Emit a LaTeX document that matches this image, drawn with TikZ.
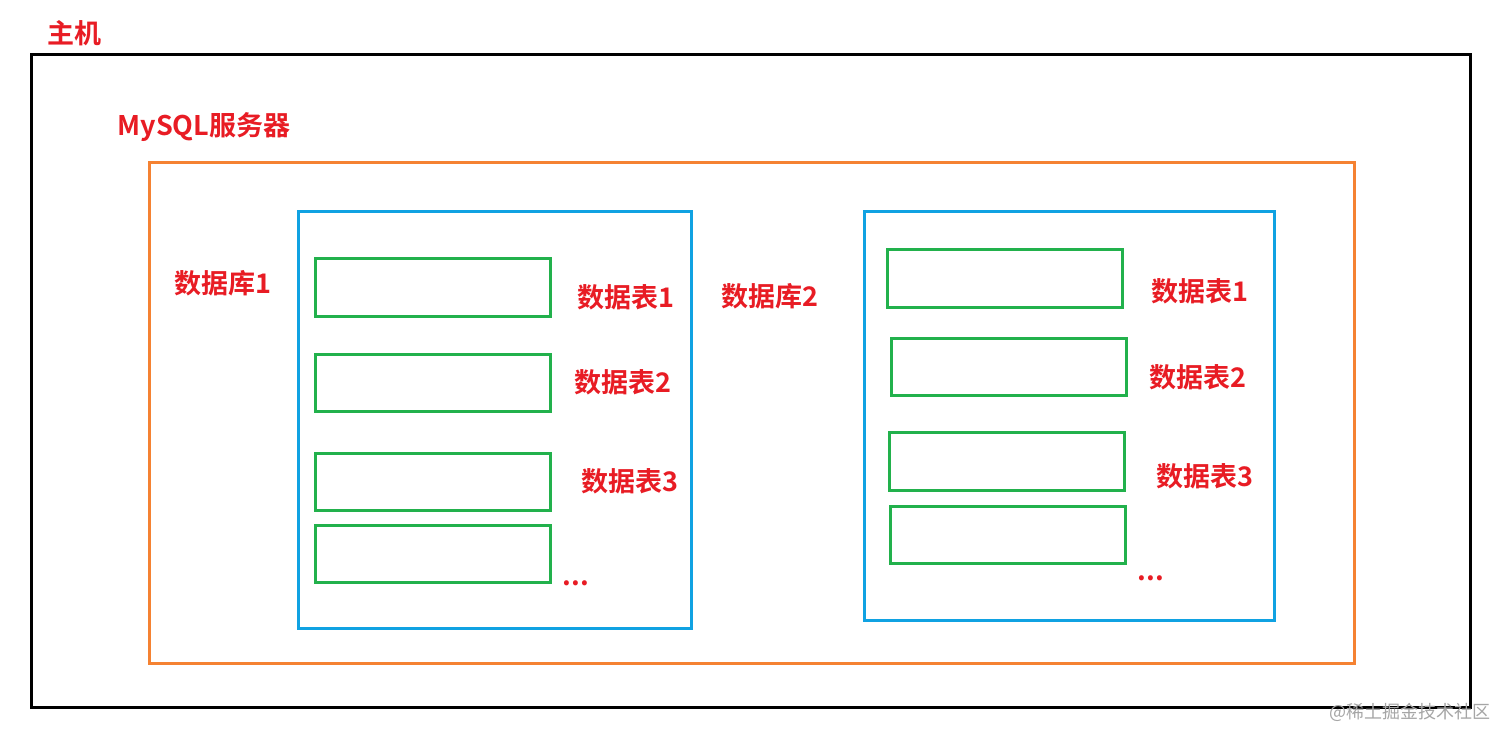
\documentclass[tikz,border=0pt]{standalone}
\usepackage{fontspec}
\newfontfamily\cjk{Noto Sans CJK SC}
\newfontfamily\cjkb{Noto Sans CJK SC Bold}
\definecolor{lred}{RGB}{232,28,36}
\definecolor{lorange}{RGB}{245,130,50}
\definecolor{lblue}{RGB}{16,162,226}
\definecolor{lgreen}{RGB}{34,177,76}
\begin{document}
\begin{tikzpicture}[x=1pt,y=-1pt,
  lbl/.style={text=lred,font=\cjkb\fontsize{27}{27}\selectfont,inner sep=0pt},
  hostbox/.style={draw=black,line width=3pt},
  srvbox/.style={draw=lorange,line width=3pt},
  dbbox/.style={draw=lblue,line width=3pt},
  tblbox/.style={draw=lgreen,line width=3pt}]
\useasboundingbox[fill=white] (0,0) rectangle (1512,743);
\node[lbl] (host) at (74,33) {主机};
\draw[hostbox] (31,55) rectangle (1470,707);
\node[lbl] (srv) at (204,127) {MySQL服务器};
\draw[srvbox] (149,163) rectangle (1354,663);
% database 1
\draw[dbbox] (298,212) rectangle (691,628);
\node[lbl] (db1) at (223,283) {数据库1};
\draw[tblbox] (315,259) rectangle (550,316);
\draw[tblbox] (315,354) rectangle (550,411);
\draw[tblbox] (315,453) rectangle (550,510);
\draw[tblbox] (315,525) rectangle (550,582);
\node[lbl] (t11) at (626,297) {数据表1};
\node[lbl] (t12) at (623,382) {数据表2};
\node[lbl] (t13) at (630,481) {数据表3};
\node[lbl] (d1) at (576,583) {...};
% database 2
\draw[dbbox] (864,212) rectangle (1274,620);
\node[lbl] (db2) at (770,296) {数据库2};
\draw[tblbox] (887,250) rectangle (1122,307);
\draw[tblbox] (891,338) rectangle (1126,395);
\draw[tblbox] (889,432) rectangle (1124,490);
\draw[tblbox] (890,506) rectangle (1125,563);
\node[lbl] (t21) at (1200,291) {数据表1};
\node[lbl] (t22) at (1198,377) {数据表2};
\node[lbl] (t23) at (1205,476) {数据表3};
\node[lbl] (d2) at (1151,578) {...};
\node[text=black!35,font=\cjk\fontsize{18}{18}\selectfont,inner sep=0pt] (wm) at (1410,712) {@稀土掘金技术社区};
\end{tikzpicture}
\end{document}
